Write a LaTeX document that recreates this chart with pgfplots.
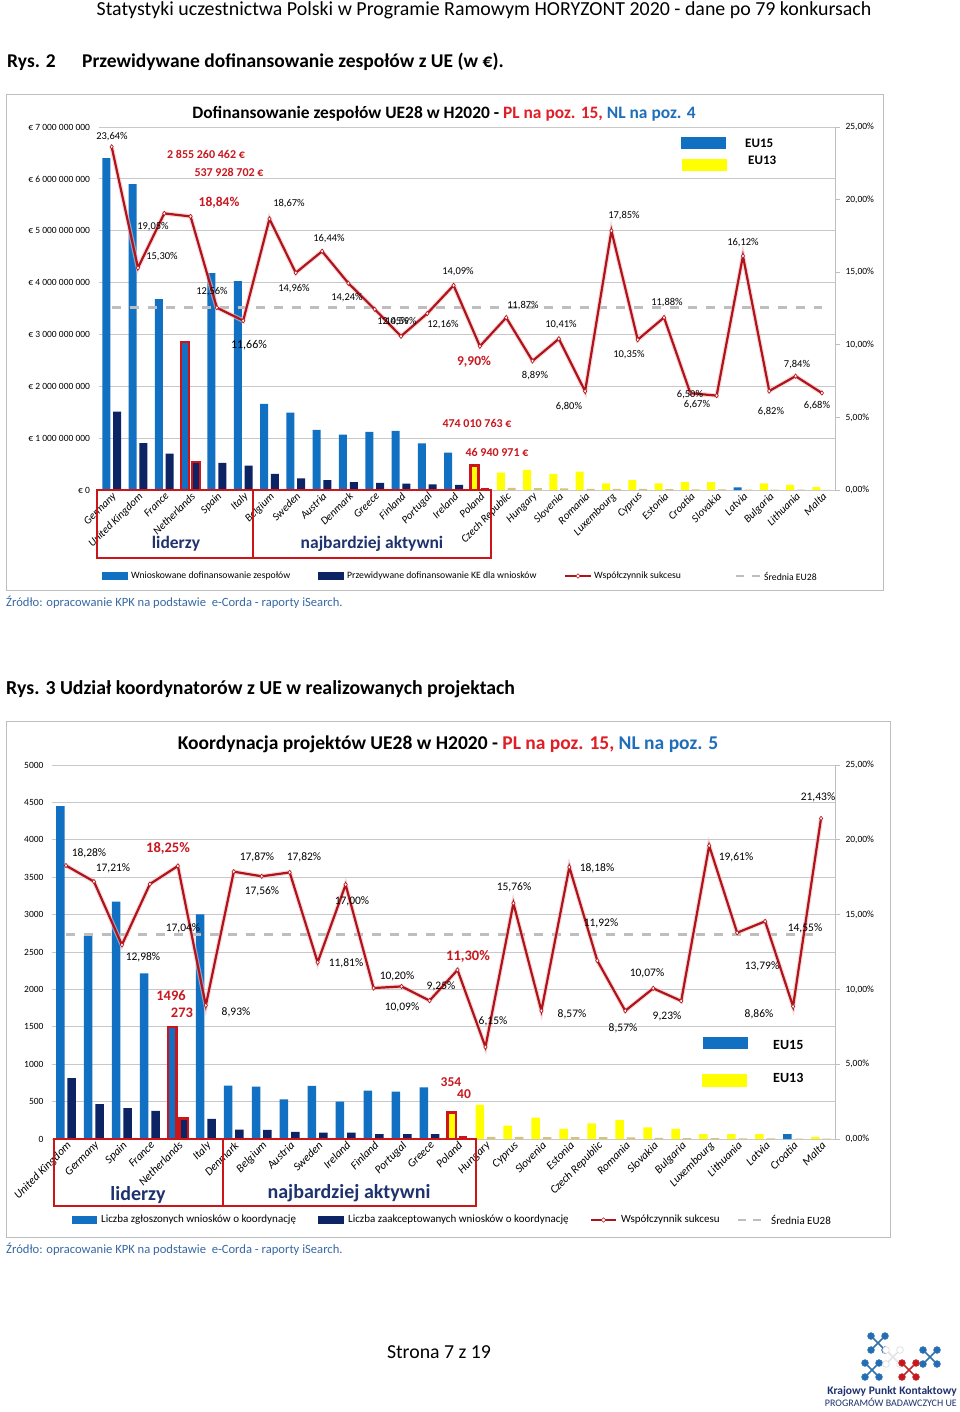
\documentclass[border=0pt]{standalone}
\usepackage{pgfplots}
\pgfplotsset{compat=1.18}
\usepackage{fontspec}
\setmainfont{Carlito}

\definecolor{eublue}{RGB}{18,112,195}
\definecolor{eunavy}{RGB}{12,36,100}
\definecolor{euyellow}{RGB}{255,255,0}
\definecolor{eutan}{RGB}{214,194,120}
\definecolor{linered}{RGB}{178,18,26}
\definecolor{boxred}{RGB}{205,20,25}
\definecolor{labred}{RGB}{200,24,32}
\definecolor{titred}{RGB}{225,30,38}
\definecolor{titblue}{RGB}{30,110,185}
\definecolor{gridgray}{RGB}{200,200,200}
\definecolor{avggray}{RGB}{190,190,190}
\definecolor{framegray}{RGB}{190,190,190}
\definecolor{srcblue}{RGB}{55,105,165}
\definecolor{grpnavy}{RGB}{30,50,110}

\newcommand\fs[1]{\fontsize{#1}{#1}\selectfont}

\pgfplotsset{
  barax/.style={scale only axis, anchor=south west,
    xmin=-0.5, xmax=27.5, ymin=0, ybar, bar width=8pt,
    scaled y ticks=false,
    axis line style={draw=none}, major tick length=0pt,
    ymajorgrids, grid style={gridgray, line width=0.8pt},
    xtick={0,...,27},
    xticklabel style={rotate=45, anchor=north east, font=\fs{11}\itshape, inner sep=1pt},
    yticklabel style={font=\fs{9.5}, xshift=-5pt},
    clip=false},
  lineax/.style={scale only axis, anchor=south west,
    xmin=-0.5, xmax=27.5, ymin=0, ymax=25,
    axis x line=none, axis y line*=right, xtick=\empty,
    ytick={0,5,10,15,20,25},
    yticklabels={{0,00\%},{5,00\%},{10,00\%},{15,00\%},{20,00\%},{25,00\%}},
    axis line style={draw=avggray, line width=0.8pt},
    tick style={draw=avggray, line width=0.8pt},
    tick align=outside, major tick length=5pt,
    yticklabel style={font=\fs{9.5}, xshift=2pt},
    clip=false},
  lightbar/.style={draw=none, bar shift=-5.4pt},
  darkbar/.style={draw=none, bar shift=5.4pt},
  rateline/.style={color=linered, line width=2.2pt, mark=diamond*, mark size=2.2pt,
    mark options={fill=white, draw=linered, line width=0.6pt, solid}},
  rateglow/.style={color=linered!25, line width=4.5pt, opacity=0.6, forget plot},
  avgline/.style={color=avggray, line width=2.5pt, dash pattern=on 9pt off 9pt},
}

\begin{document}
\begin{tikzpicture}
\path[use as bounding box, fill=white] (0pt,0pt) rectangle (960pt,-1412pt);

\begin{scope}[x=1pt,y=-1pt]
\draw[framegray, line width=1pt] (6,95) rectangle (883,590);
\draw[framegray, line width=1pt] (6,721) rectangle (890,1237);
\end{scope}

% ---------------- chart 1: bars ----------------
\begin{axis}[barax, at={(98.5pt,-490pt)}, width=736.5pt, height=363pt,
  ymax=7e9, ytick={0,1e9,2e9,3e9,4e9,5e9,6e9,7e9},
  yticklabels={€ 0,€ 1 000 000 000,€ 2 000 000 000,€ 3 000 000 000,€ 4 000 000 000,€ 5 000 000 000,€ 6 000 000 000,€ 7 000 000 000},
  xticklabels={Germany,United Kingdom,France,Netherlands,Spain,Italy,Belgium,Sweden,Austria,Denmark,Greece,Finland,Portugal,Ireland,Poland,Czech Republic,Hungary,Slovenia,Romania,Luxembourg,Cyprus,Estonia,Croatia,Slovakia,Latvia,Bulgaria,Lithuania,Malta}]
\addplot[lightbar, fill=eublue] coordinates {(0,6.40e9) (1,5.90e9) (2,3.68e9) (4,4.18e9) (5,4.03e9) (6,1.66e9) (7,1.49e9) (8,1.16e9) (9,1.07e9) (10,1.12e9) (11,1.14e9) (12,0.90e9) (13,0.72e9) (24,0.05e9)};
\addplot[lightbar, fill=euyellow] coordinates {(15,0.335e9) (16,0.386e9) (17,0.31e9) (18,0.355e9) (19,0.13e9) (20,0.19e9) (21,0.13e9) (22,0.15e9) (23,0.15e9) (25,0.13e9) (26,0.10e9) (27,0.06e9)};
\addplot[lightbar, fill=eublue, draw=boxred, line width=2.5pt] coordinates {(3,2855260462)};
\addplot[lightbar, fill=euyellow, draw=boxred, line width=2.5pt] coordinates {(14,474010763)};
\addplot[darkbar, fill=eunavy] coordinates {(0,1.513e9) (1,0.903e9) (2,0.701e9) (4,0.525e9) (5,0.470e9) (6,0.310e9) (7,0.223e9) (8,0.191e9) (9,0.152e9) (10,0.139e9) (11,0.121e9) (12,0.109e9) (13,0.101e9)};
\addplot[darkbar, fill=eutan] coordinates {(15,0.040e9) (16,0.034e9) (17,0.032e9) (18,0.024e9) (19,0.023e9) (20,0.020e9) (21,0.015e9) (22,0.010e9) (23,0.010e9) (24,0.008e9) (25,0.009e9) (26,0.008e9) (27,0.004e9)};
\addplot[darkbar, fill=eunavy, draw=boxred, line width=2.5pt] coordinates {(3,537928702)};
\addplot[darkbar, fill=boxred] coordinates {(14,46940971)};
\end{axis}

% ---------------- chart 1: success rate ----------------
\pgfplotstableread{
x rate
0 23.64
1 15.30
2 19.05
3 18.84
4 12.56
5 11.66
6 18.67
7 14.96
8 16.44
9 14.24
10 12.45
11 10.59
12 12.16
13 14.09
14 9.90
15 11.87
16 8.89
17 10.41
18 6.80
19 17.85
20 10.35
21 11.88
22 6.67
23 6.50
24 16.12
25 6.82
26 7.84
27 6.68
}\rateone
\begin{axis}[lineax, at={(98.5pt,-490pt)}, width=736.5pt, height=363pt]
\addplot[avgline] coordinates {(0,12.58) (27,12.58)};
\addplot[rateglow] table[x=x, y=rate] {\rateone};
\addplot[rateline] table[x=x, y=rate] {\rateone};
\end{axis}

% ---------------- chart 2: bars ----------------
\begin{axis}[barax, at={(52pt,-1139pt)}, width=783pt, height=374pt,
  bar width=8.5pt,
  xticklabel style={font=\fs{11.5}\itshape},
  ymax=5000, ytick={0,500,1000,1500,2000,2500,3000,3500,4000,4500,5000},
  yticklabels={0,500,1000,1500,2000,2500,3000,3500,4000,4500,5000},
  xticklabels={United Kingdom,Germany,Spain,France,Netherlands,Italy,Denmark,Belgium,Austria,Sweden,Ireland,Finland,Portugal,Greece,Poland,Hungary,Cyprus,Slovenia,Estonia,Czech Republic,Romania,Slovakia,Bulgaria,Luxembourg,Lithuania,Latvia,Croatia,Malta}]
\addplot[lightbar, bar shift=-5.7pt, fill=eublue] coordinates {(0,4452) (1,2714) (2,3173) (3,2215) (5,3004) (6,713) (7,699) (8,530) (9,709) (10,499) (11,646) (12,633) (13,691) (26,67)};
\addplot[lightbar, bar shift=-5.7pt, fill=euyellow] coordinates {(15,455) (16,180) (17,287) (18,134) (19,210) (20,254) (21,157) (22,134) (23,67) (24,67) (25,67) (27,28)};
\addplot[lightbar, bar shift=-5.7pt, fill=eublue, draw=boxred, line width=2.5pt] coordinates {(4,1496)};
\addplot[lightbar, bar shift=-5.7pt, fill=euyellow, draw=boxred, line width=2.5pt] coordinates {(14,354)};
\addplot[darkbar, bar shift=5.7pt, fill=eunavy] coordinates {(0,814) (1,467) (2,412) (3,377) (5,268) (6,127) (7,123) (8,94) (9,84) (10,85) (11,65) (12,65) (13,64)};
\addplot[darkbar, bar shift=5.7pt, fill=eutan] coordinates {(15,28) (16,28) (17,25) (18,24) (19,25) (20,22) (21,16) (22,12) (23,13) (24,9) (25,10) (26,6) (27,6)};
\addplot[darkbar, bar shift=5.7pt, fill=eunavy, draw=boxred, line width=2.5pt] coordinates {(4,273)};
\addplot[darkbar, bar shift=5.7pt, fill=boxred] coordinates {(14,40)};
\end{axis}

% ---------------- chart 2: success rate ----------------
\pgfplotstableread{
x rate
0 18.28
1 17.21
2 12.98
3 17.04
4 18.25
5 8.93
6 17.87
7 17.56
8 17.82
9 11.81
10 17.00
11 10.09
12 10.20
13 9.25
14 11.30
15 6.15
16 15.76
17 8.57
18 18.18
19 11.92
20 8.57
21 10.07
22 9.23
23 19.61
24 13.79
25 14.55
26 8.86
27 21.43
}\ratetwo
\begin{axis}[lineax, at={(52pt,-1139pt)}, width=783pt, height=374pt]
\addplot[avgline] coordinates {(0,13.68) (27,13.68)};
\addplot[rateglow] table[x=x, y=rate] {\ratetwo};
\addplot[rateline] table[x=x, y=rate] {\ratetwo};
\end{axis}

\begin{scope}[x=1pt,y=-1pt, every node/.style={inner sep=0pt}]
% page texts
\node[anchor=base] at (484,16) {\fs{19.9}Statystyki uczestnictwa Polski w Programie Ramowym HORYZONT 2020 - dane po 79 konkursach};
\node[anchor=base west] at (7,68) {\fs{19.5}\bfseries Rys. 2};
\node[anchor=base west] at (82,68) {\fs{19.5}\bfseries Przewidywane dofinansowanie zespołów z UE (w €).};
\node[anchor=base west] at (6,606) {\fs{12.6}\color{srcblue}Źródło: opracowanie KPK na podstawie\ \ e-Corda - raporty iSearch.};
\node[anchor=base west] at (6,694) {\fs{19.8}\bfseries Rys. 3 Udział koordynatorów z UE w realizowanych projektach};
\node[anchor=base west] at (6,1253) {\fs{12.6}\color{srcblue}Źródło: opracowanie KPK na podstawie\ \ e-Corda - raporty iSearch.};
\node[anchor=base] at (439,1358) {\fs{19.8}Strona 7 z 19};

% chart titles
\node[anchor=base] at (444,119) {\fs{17.4}\bfseries Dofinansowanie zespołów UE28 w H2020 - \textcolor{titred}{PL na poz. 15,} \textcolor{titblue}{NL na poz. 4}};
\node[anchor=base] at (448,749) {\fs{19.5}\bfseries Koordynacja projektów UE28 w H2020 - \textcolor{titred}{PL na poz. 15,} \textcolor{titblue}{NL na poz. 5}};

% EU15 / EU13 keys
\fill[eublue] (681,137) rectangle (726,149);
\fill[euyellow] (682,159) rectangle (727,171);
\node[anchor=west] at (745,143) {\fs{13}\bfseries EU15};
\node[anchor=west] at (748,160) {\fs{13}\bfseries EU13};
\fill[eublue] (703,1037) rectangle (748,1049);
\fill[euyellow] (702,1074) rectangle (747,1087);
\node[anchor=west] at (773,1045) {\fs{14}\bfseries EU15};
\node[anchor=west] at (773,1078) {\fs{14}\bfseries EU13};

% group boxes
\draw[boxred, line width=2pt] (97,490) rectangle (253,558);
\draw[boxred, line width=2pt] (253,490) rectangle (491,558);
\node at (176,544) {\fs{17.5}\bfseries\color{grpnavy}liderzy};
\node at (372,544) {\fs{17.5}\bfseries\color{grpnavy}najbardziej aktywni};
\draw[boxred, line width=2pt] (54,1139) rectangle (223,1206);
\draw[boxred, line width=2pt] (223,1139) rectangle (476,1206);
\node at (138,1195) {\fs{20}\bfseries\color{grpnavy}liderzy};
\node at (349,1193) {\fs{20}\bfseries\color{grpnavy}najbardziej aktywni};

% legends
\fill[eublue] (102,572) rectangle (128,580);
\node[anchor=west] at (131,576) {\fs{9.7}Wnioskowane dofinansowanie zespołów};
\fill[eunavy] (318,572) rectangle (344,580);
\node[anchor=west] at (347,576) {\fs{9.7}Przewidywane dofinansowanie KE dla wniosków};
\draw[linered, line width=2pt] (565,576) -- (591,576);
\draw[linered, fill=white, line width=0.6pt] (578,573.8) -- (580.2,576) -- (578,578.2) -- (575.8,576) -- cycle;
\node[anchor=west] at (594,576) {\fs{9.7}Współczynnik sukcesu};
\draw[avggray, line width=2.5pt] (736,576) -- (744,576) (752,576) -- (760,576);
\node[anchor=west] at (764,576) {\fs{9.7}Średnia EU28};

\fill[eublue] (72,1216) rectangle (97,1224);
\node[anchor=west] at (101,1220) {\fs{11}Liczba zgłoszonych wniosków o koordynację};
\fill[eunavy] (318,1216) rectangle (344,1224);
\node[anchor=west] at (348,1220) {\fs{11}Liczba zaakceptowanych wniosków o koordynację};
\draw[linered, line width=2pt] (591,1220) -- (616,1220);
\draw[linered, fill=white, line width=0.6pt] (603.5,1217.8) -- (605.7,1220) -- (603.5,1222.2) -- (601.3,1220) -- cycle;
\node[anchor=west] at (621,1220) {\fs{11}Współczynnik sukcesu};
\draw[avggray, line width=2.5pt] (738,1220) -- (746,1220) (753,1220) -- (761,1220);
\node[anchor=west] at (771,1220) {\fs{11}Średnia EU28};

% chart 1 value labels
\begin{scope}[every node/.append style={font=\fs{10.5}}]
\node at (112,137) {23,64\%};
\node at (153,227) {19,05\%};
\node at (162,257) {15,30\%};
\node at (289,204) {18,67\%};
\node at (329,239) {16,44\%};
\node at (212,292) {12,56\%};
\node at (294,289) {14,96\%};
\node at (347,298) {14,24\%};
\node at (249,345) {\fs{12}11,66\%};
\node at (393,322) {12,45\%};
\node at (401,322) {10,59\%};
\node at (443,325) {12,16\%};
\node at (458,272) {14,09\%};
\node at (523,306) {11,87\%};
\node at (535,376) {8,89\%};
\node at (561,325) {10,41\%};
\node at (569,407) {6,80\%};
\node at (624,216) {17,85\%};
\node at (629,355) {10,35\%};
\node at (667,303) {11,88\%};
\node at (690,395) {6,50\%};
\node at (697,405) {6,67\%};
\node at (743,243) {16,12\%};
\node at (797,365) {7,84\%};
\node at (771,412) {6,82\%};
\node at (817,406) {6,68\%};
\end{scope}
\begin{scope}[every node/.append style={font=\fs{12}\bfseries, text=labred}]
\node at (206,154) {2 855 260 462 €};
\node at (229,172) {537 928 702 €};
\node at (477,423) {474 010 763 €};
\node at (497,452) {46 940 971 €};
\node at (219,203) {\fs{13.5}18,84\%};
\node at (474,362) {\fs{13.5}9,90\%};
\end{scope}

% chart 2 value labels
\begin{scope}[every node/.append style={font=\fs{11.5}}]
\node at (89,853) {18,28\%};
\node at (113,868) {17,21\%};
\node at (143,957) {12,98\%};
\node at (183,928) {17,04\%};
\node at (236,1012) {8,93\%};
\node at (257,857) {17,87\%};
\node at (304,857) {17,82\%};
\node at (262,891) {17,56\%};
\node at (352,901) {17,00\%};
\node at (346,963) {11,81\%};
\node at (397,976) {10,20\%};
\node at (402,1007) {10,09\%};
\node at (441,986) {9,25\%};
\node at (493,1021) {6,15\%};
\node at (514,887) {15,76\%};
\node at (572,1014) {8,57\%};
\node at (597,868) {18,18\%};
\node at (601,923) {11,92\%};
\node at (623,1028) {8,57\%};
\node at (647,973) {10,07\%};
\node at (667,1016) {9,23\%};
\node at (736,857) {19,61\%};
\node at (762,966) {13,79\%};
\node at (759,1014) {8,86\%};
\node at (805,928) {14,55\%};
\node at (818,797) {21,43\%};
\end{scope}
\begin{scope}[every node/.append style={font=\fs{14.5}\bfseries, text=labred}]
\node at (168,848) {18,25\%};
\node at (468,956) {11,30\%};
\node at (171,996) {1496};
\node at (182,1013) {273};
\node at (451,1082) {\fs{13.5}354};
\node at (464,1094) {\fs{13.5}40};
\end{scope}

% logo
\foreach \cx/\cy/\col in {878/1343/titblue, 872/1370/titblue, 893/1357/white, 909/1370/boxred, 930/1357/titblue}{
  \draw[\col!80!gray, line width=1.6pt] (\cx-7,\cy-7) -- (\cx+7,\cy+7) (\cx-7,\cy+7) -- (\cx+7,\cy-7);
  \foreach \dx/\dy in {-7/-7,7/-7,-7/7,7/7}{
    \filldraw[fill=\col, draw=\col!70!gray, line width=0.6pt] (\cx+\dx,\cy+\dy) circle (3.4);
  }
}
\node[anchor=base east] at (957,1394) {\fs{11.5}\bfseries\color{grpnavy}Krajowy Punkt Kontaktowy};
\node[anchor=base east] at (957,1406) {\fs{10}\color{grpnavy}PROGRAMÓW BADAWCZYCH UE};
\end{scope}
\end{tikzpicture}
\end{document}
